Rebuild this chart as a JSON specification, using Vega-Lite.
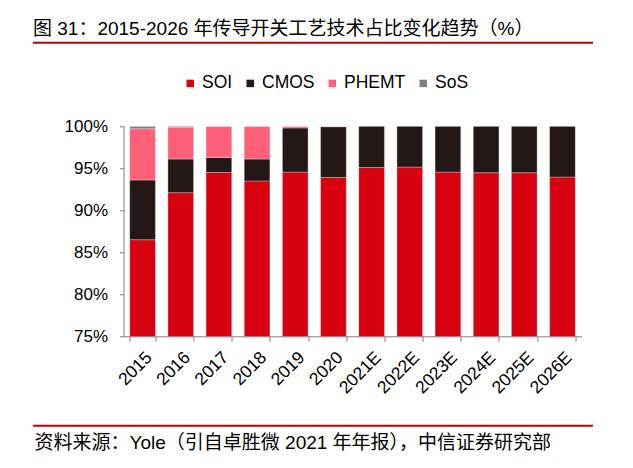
{
  "$schema": "https://vega.github.io/schema/vega-lite/v6.json",
  "autosize": "none",
  "width": 458,
  "height": 210,
  "padding": {"left": 123.5, "top": 126.3, "right": 51.5, "bottom": 131.7},
  "background": "white",
  "config": {
    "view": {"stroke": null},
    "font": "Liberation Sans, Noto Sans CJK SC",
    "axis": {"labelFont": "Liberation Sans", "labelColor": "#000", "domainColor": "#7f7f7f", "tickColor": "#7f7f7f", "grid": false}
  },
  "title": {
    "text": "图 31：2015-2026 年传导开关工艺技术占比变化趋势（%）",
    "anchor": "start",
    "frame": "group",
    "dx": -90.5,
    "offset": 3,
    "fontSize": 19,
    "fontWeight": "normal",
    "font": "Liberation Sans, Noto Sans CJK SC",
    "color": "#000"
  },
  "data": {
    "values": [
      {"year": "2015", "tech": "SOI", "share": 86.5, "k": 1},
      {"year": "2015", "tech": "CMOS", "share": 7.1, "k": 2},
      {"year": "2015", "tech": "PHEMT", "share": 6.1, "k": 3},
      {"year": "2015", "tech": "SoS", "share": 0.3, "k": 4},
      {"year": "2016", "tech": "SOI", "share": 92.1, "k": 1},
      {"year": "2016", "tech": "CMOS", "share": 4.0, "k": 2},
      {"year": "2016", "tech": "PHEMT", "share": 3.8, "k": 3},
      {"year": "2016", "tech": "SoS", "share": 0.1, "k": 4},
      {"year": "2017", "tech": "SOI", "share": 94.5, "k": 1},
      {"year": "2017", "tech": "CMOS", "share": 1.8, "k": 2},
      {"year": "2017", "tech": "PHEMT", "share": 3.7, "k": 3},
      {"year": "2017", "tech": "SoS", "share": 0.0, "k": 4},
      {"year": "2018", "tech": "SOI", "share": 93.5, "k": 1},
      {"year": "2018", "tech": "CMOS", "share": 2.6, "k": 2},
      {"year": "2018", "tech": "PHEMT", "share": 3.9, "k": 3},
      {"year": "2018", "tech": "SoS", "share": 0.0, "k": 4},
      {"year": "2019", "tech": "SOI", "share": 94.55, "k": 1},
      {"year": "2019", "tech": "CMOS", "share": 5.25, "k": 2},
      {"year": "2019", "tech": "PHEMT", "share": 0.2, "k": 3},
      {"year": "2019", "tech": "SoS", "share": 0.0, "k": 4},
      {"year": "2020", "tech": "SOI", "share": 93.9, "k": 1},
      {"year": "2020", "tech": "CMOS", "share": 6.05, "k": 2},
      {"year": "2020", "tech": "PHEMT", "share": 0.05, "k": 3},
      {"year": "2020", "tech": "SoS", "share": 0.0, "k": 4},
      {"year": "2021E", "tech": "SOI", "share": 95.1, "k": 1},
      {"year": "2021E", "tech": "CMOS", "share": 4.9, "k": 2},
      {"year": "2022E", "tech": "SOI", "share": 95.15, "k": 1},
      {"year": "2022E", "tech": "CMOS", "share": 4.85, "k": 2},
      {"year": "2023E", "tech": "SOI", "share": 94.55, "k": 1},
      {"year": "2023E", "tech": "CMOS", "share": 5.45, "k": 2},
      {"year": "2024E", "tech": "SOI", "share": 94.47, "k": 1},
      {"year": "2024E", "tech": "CMOS", "share": 5.53, "k": 2},
      {"year": "2025E", "tech": "SOI", "share": 94.47, "k": 1},
      {"year": "2025E", "tech": "CMOS", "share": 5.53, "k": 2},
      {"year": "2026E", "tech": "SOI", "share": 93.96, "k": 1},
      {"year": "2026E", "tech": "CMOS", "share": 6.04, "k": 2}
    ]
  },
  "layer": [
    {
      "mark": {"type": "bar", "clip": true, "stroke": "white", "strokeWidth": 0.5, "strokeOpacity": 0.6},
      "encoding": {
        "x": {
          "field": "year", "type": "nominal", "sort": null,
          "scale": {"paddingInner": 0.327, "paddingOuter": 0.163},
          "axis": {
            "title": "资料来源：Yole（引自卓胜微 2021 年年报），中信证券研究部",
            "titleFont": "Liberation Sans, Noto Sans CJK SC",
            "titleFontSize": 19,
            "titleFontWeight": "normal",
            "titleColor": "#000",
            "titleX": -89.5,
            "titleY": 112,
            "titleAlign": "left",
            "titleAnchor": "start",
            "titleBaseline": "alphabetic",
            "labelAngle": -45,
            "labelFontSize": 17.5,
            "labelPadding": 7,
            "tickBand": "extent",
            "tickSize": 5
          }
        },
        "y": {
          "field": "share", "type": "quantitative", "stack": "zero",
          "scale": {"domain": [75, 100], "nice": false, "zero": false},
          "axis": {
            "title": null,
            "values": [75, 80, 85, 90, 95, 100],
            "labelExpr": "datum.value + '%'",
            "labelFontSize": 17,
            "labelPadding": 12,
            "tickSize": 4
          }
        },
        "color": {
          "field": "tech", "type": "nominal",
          "scale": {"domain": ["SOI", "CMOS", "PHEMT", "SoS"], "range": ["#D7000F", "#231815", "#FF6078", "#808080"]},
          "legend": {
            "title": null,
            "orient": "none",
            "direction": "horizontal",
            "legendX": 58,
            "legendY": -52,
            "symbolType": "square",
            "symbolSize": 56,
            "symbolStrokeWidth": 0,
            "labelFontSize": 17.5,
            "labelFont": "Liberation Sans",
            "labelColor": "#000",
            "labelOffset": 3,
            "columnPadding": 9
          }
        },
        "order": {"field": "k", "type": "quantitative"}
      }
    },
    {
      "data": {"values": [{"pos": "top"}]},
      "mark": {"type": "rule", "color": "#C00000", "strokeWidth": 2},
      "encoding": {
        "x": {"value": -90.5},
        "x2": {"value": 469.5},
        "y": {"value": -83.6}
      }
    },
    {
      "data": {"values": [{"pos": "bottom"}]},
      "mark": {"type": "rule", "color": "#C00000", "strokeWidth": 2},
      "encoding": {
        "x": {"value": -90.5},
        "x2": {"value": 469.5},
        "y": {"value": 299.4}
      }
    }
  ]
}
